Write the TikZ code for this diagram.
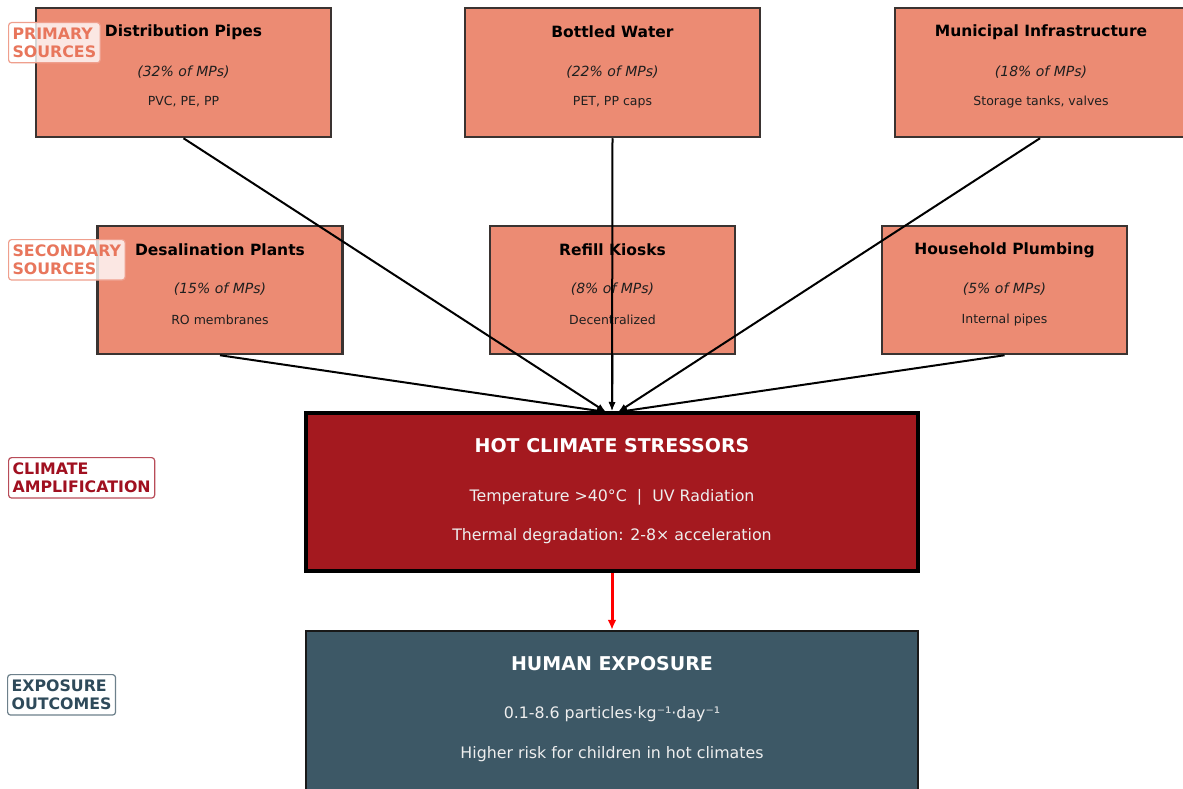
\documentclass[tikz,border=0pt]{standalone}
\usepackage{fontspec}
\setmainfont{DejaVu Sans}
\usetikzlibrary{arrows.meta}
\definecolor{salmonfill}{HTML}{EC8B73}
\definecolor{boxedge}{HTML}{3A3331}
\definecolor{hotfill}{HTML}{A4191F}
\definecolor{humanfill}{HTML}{3D5866}
\definecolor{srccol}{HTML}{E8765C}
\definecolor{climcol}{HTML}{A01020}
\definecolor{expcol}{HTML}{2E4A5A}
\definecolor{lighttext}{HTML}{EEEEEE}
\tikzset{
  srcbox/.style={draw=boxedge, line width=2.5pt, fill=salmonfill, minimum width=295pt, minimum height=129pt, inner sep=0pt},
  secbox/.style={draw=boxedge, line width=2.5pt, fill=salmonfill, minimum width=245pt, minimum height=128pt, inner sep=0pt},
  title/.style={font=\bfseries\fontsize{15.5}{18}\selectfont, text=black, inner sep=0pt},
  share/.style={font=\itshape\fontsize{14}{16}\selectfont, text=black!88, inner sep=0pt},
  detail/.style={font=\fontsize{12.5}{14}\selectfont, text=black!88, inner sep=0pt},
  bigtitle/.style={font=\bfseries\fontsize{19}{22}\selectfont, text=white, inner sep=0pt},
  bigline/.style={font=\fontsize{15.8}{18}\selectfont, text=lighttext, inner sep=0pt},
  flow/.style={line width=2pt, -{Latex[length=9pt,width=7pt]}},
  hotflow/.style={line width=3pt, red, -{Latex[length=10pt,width=9pt]}},
  stage/.style={rounded corners=3pt, fill=white, fill opacity=0.8, text opacity=1, line width=1.2pt, align=left, anchor=north west, inner xsep=4pt, inner ysep=5pt, font=\bfseries\fontsize{15.8}{18.5}\selectfont}
}
\begin{document}
\begin{tikzpicture}[x=1pt,y=-1pt]
\useasboundingbox (0,0) rectangle (1183,789);
% primary sources
\node[srcbox] (dist) at (183.5,72.5) {};
\node[srcbox] (bott) at (612.5,72.5) {};
\node[srcbox] (muni) at (1042.5,72.5) {};
\node[title] (distT) at (183.5,32) {Distribution Pipes};
\node[share] (distS) at (183.5,72) {(32\% of MPs)};
\node[detail] (distD) at (183.5,102) {PVC, PE, PP};
\node[title] (bottT) at (612.5,32) {Bottled Water};
\node[share] (bottS) at (612.5,72) {(22\% of MPs)};
\node[detail] (bottD) at (612.5,102) {PET, PP caps};
\node[title] (muniT) at (1041,32) {Municipal Infrastructure};
\node[share] (muniS) at (1041,72) {(18\% of MPs)};
\node[detail] (muniD) at (1041,102) {Storage tanks, valves};
% secondary sources
\node[secbox] (desal) at (220,290) {};
\node[secbox] (refill) at (612.5,290) {};
\node[secbox] (house) at (1004.5,290) {};
\node[title] (desalT) at (220,250) {Desalination Plants};
\node[share] (desalS) at (220,289) {(15\% of MPs)};
\node[detail] (desalD) at (220,320) {RO membranes};
\node[title] (refillT) at (612.5,250) {Refill Kiosks};
\node[share] (refillS) at (612.5,289) {(8\% of MPs)};
\node[detail] (refillD) at (612.5,320) {Decentralized};
\node[title] (houseT) at (1004.5,250) {Household Plumbing};
\node[share] (houseS) at (1004.5,289) {(5\% of MPs)};
\node[detail] (houseD) at (1004.5,320) {Internal pipes};
% hot climate
\node[draw=black, line width=3.5pt, fill=hotfill, minimum width=612pt, minimum height=158pt, inner sep=0pt] (hot) at (612,492) {};
\node[bigtitle] (hotT) at (612,446) {HOT CLIMATE STRESSORS};
\node[bigline] (hotA) at (612,497) {Temperature >40°C\ \ |\ \ UV Radiation};
\node[bigline] (hotB) at (612,536) {Thermal degradation: 2-8× acceleration};
% human exposure
\node[draw=black!90, line width=2.5pt, fill=humanfill, minimum width=612pt, minimum height=170pt, inner sep=0pt] (human) at (612,716) {};
\node[bigtitle] (humT) at (612,664) {HUMAN EXPOSURE};
\node[bigline] (humA) at (612,714) {0.1-8.6 particles·kg⁻¹·day⁻¹};
\node[bigline] (humB) at (612,754) {Higher risk for children in hot climates};
% connectors
\coordinate (inL) at (606,412);
\coordinate (inC) at (612,411);
\coordinate (inR) at (618,412);
\draw[flow] (dist.south) -- (inL);
\draw[flow] (bott.south) -- (inC);
\draw[flow] (muni.south -| 1040,0) -- (inR);
\draw[flow] (desal.south) -- (inL);
\draw[flow] (refill.south) -- (inC);
\draw[flow] (house.south) -- (inR);
\draw[hotflow] (hot.south) -- (human.north);
% stage labels
\node[stage, draw=srccol!70, text=srccol] (lp) at (8,22) {PRIMARY\\SOURCES};
\node[stage, draw=srccol!70, text=srccol] (ls) at (8,239) {SECONDARY\\SOURCES};
\node[stage, draw=climcol!75, text=climcol] (lc) at (8,457) {CLIMATE\\AMPLIFICATION};
\node[stage, draw=expcol!70, text=expcol] (le) at (7,674) {EXPOSURE\\OUTCOMES};
\end{tikzpicture}
\end{document}
